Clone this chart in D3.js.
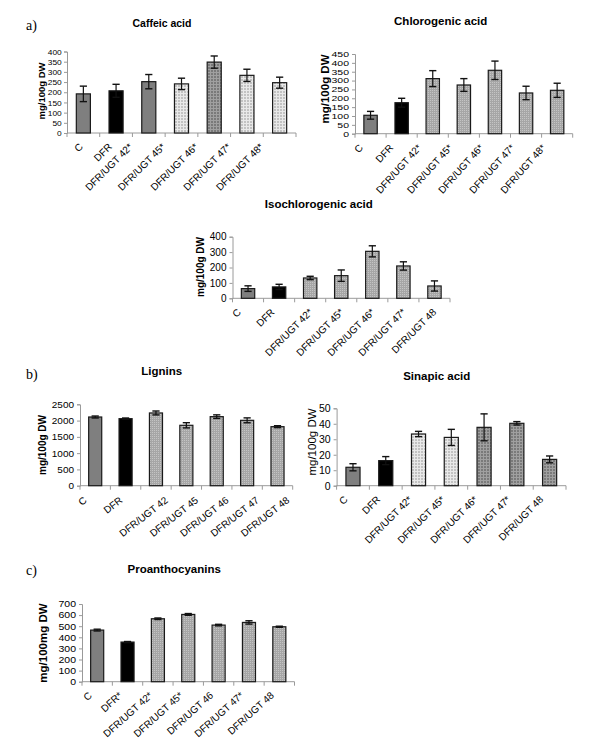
<!DOCTYPE html>
<html><head><meta charset="utf-8">
<script src="https://cdn.jsdelivr.net/npm/d3@7"></script>
<style>body{margin:0;background:#fff} svg{display:block}</style>
</head><body>
<svg id="c" width="600" height="750"></svg>
<script>
// ---------- data ----------
const catsCaffeic = ["C","DFR","DFR/UGT 42*","DFR/UGT 45*","DFR/UGT 46*","DFR/UGT 47*","DFR/UGT 48*"];
const catsChloro  = ["C","DFR","DFR/UGT 42*","DFR/UGT 45*","DFR/UGT 46*","DFR/UGT 47*","DFR/UGT 48*"];
const catsIso     = ["C","DFR","DFR/UGT 42*","DFR/UGT 45*","DFR/UGT 46*","DFR/UGT 47*","DFR/UGT 48"];
const catsLignin  = ["C","DFR","DFR/UGT 42","DFR/UGT 45","DFR/UGT 46","DFR/UGT 47","DFR/UGT 48"];
const catsSinapic = ["C","DFR","DFR/UGT 42*","DFR/UGT 45*","DFR/UGT 46*","DFR/UGT 47*","DFR/UGT 48"];
const catsProanth = ["C","DFR*","DFR/UGT 42*","DFR/UGT 45*","DFR/UGT 46","DFR/UGT 47*","DFR/UGT 48"];

const caffeicVals = [192,207,252,241,348,283,247];
const caffeicErr  = [38,32,35,28,30,30,27];
const chloroVals  = [104,175,311,275,358,230,245];
const chloroErr   = [22,25,45,36,52,38,40];
const isoVals     = [63,74,132,147,305,210,80];
const isoErr      = [18,17,11,37,36,27,33];
const ligninVals  = [2110,2059,2234,1855,2121,2008,1813];
const ligninErr   = [30,20,60,80,55,75,30];
const sinapicVals = [11.9,16.2,33.4,31.2,37.7,40.3,17.0];
const sinapicErr  = [2.3,2.6,1.7,5.2,8.7,1.1,2.2];
const proanthVals = [465,357,567,606,510,534,495];
const proanthErr  = [8,5,7,8,7,15,5];

const ticksCaffeic = [0,50,100,150,200,250,300,350,400];
const ticksChloro  = [0,50,100,150,200,250,300,350,400,450];
const ticksIso     = [0,100,200,300,400];
const ticksLignin  = [0,500,1000,1500,2000,2500];
const ticksSinapic = [0,10,20,30,40,50];
const ticksProanth = [0,100,200,300,400,500,600,700];

// fill style keys per bar (styles kept separate from data)
const fillsCaffeic = ["solid","black","solid","light","dark","light","light"];
const fillsChloro  = ["solid","black","dot","dot","dot","dot","dot"];
const fillsIso     = ["solid","black","dot","dot","dot","dot","dot"];
const fillsLignin  = ["solid","black","dot","dot","dot","dot","dot"];
const fillsSinapic = ["solid","black","light","light","dark","dark","dark"];
const fillsProanth = ["solid","black","dot","dot","dot","dot","dot"];

// ---------- drawing ----------
const svg = d3.select("#c");
const defs = svg.append("defs");
function pat(id, base, line, size, dots){
  const p = defs.append("pattern").attr("id",id).attr("patternUnits","userSpaceOnUse")
    .attr("width",size).attr("height",size);
  p.append("rect").attr("width",size).attr("height",size).attr("fill",base);
  if(dots){
    p.append("rect").attr("x",0).attr("y",0).attr("width",1).attr("height",1).attr("fill",line);
  } else {
    p.append("rect").attr("x",0).attr("y",0).attr("width",size).attr("height",1).attr("fill",line);
    p.append("rect").attr("x",0).attr("y",0).attr("width",1).attr("height",size).attr("fill",line);
  }
}
pat("pLight","#c2c2c2","#e9e9e9",3,false);
pat("pDark","#7a7a7a","#a0a0a0",3,false);
pat("pDot","#a6a6a6","#c4c4c4",2,true);
const fillMap = {solid:"#7f7f7f", black:"#000", light:"url(#pLight)", dark:"url(#pDark)", dot:"url(#pDot)"};

const FONT = "Liberation Sans, Arial, sans-serif";

function panel(o){
  const g = svg.append("g");
  const x = d3.scaleBand().domain(o.cats).range([o.x0,o.x1]).padding(0);
  const y = d3.scaleLinear().domain([0,o.ymax]).range([o.y0,o.y1]);
  const bw = x.bandwidth()*0.43;
  // title
  g.append("text").attr("x",o.tx).attr("y",o.ty).attr("text-anchor","middle")
    .attr("font-family",FONT).attr("font-weight","bold").attr("font-size",o.tfs).text(o.title);
  // y axis title
  g.append("text").attr("transform",`translate(${o.ytx},${o.yty}) rotate(-90)`)
    .attr("text-anchor","middle").attr("dy","0.35em")
    .attr("font-family",FONT).attr("font-weight",o.ytBold?"bold":"normal")
    .attr("font-size",o.ytfs).text(o.ytitle);
  // y axis
  const ya = d3.axisLeft(y).tickValues(o.ticks).tickSize(3).tickPadding(3).tickFormat(d3.format("d"));
  const yg = g.append("g").attr("transform",`translate(${o.x0},0)`).call(ya);
  yg.select(".domain").attr("stroke","#9a9a9a");
  yg.selectAll(".tick line").attr("stroke","#9a9a9a");
  yg.selectAll(".tick text").attr("font-family",FONT).attr("font-size",o.tkfs).attr("fill","#000")
    .attr("transform",`scale(${o.tsx||1},${o.tsy||1})`);
  // x axis line and ticks at band boundaries
  g.append("line").attr("x1",o.x0).attr("x2",o.x1).attr("y1",o.y0).attr("y2",o.y0)
    .attr("stroke","#9a9a9a").attr("stroke-width",1);
  const bounds = o.cats.map(c=>x(c)).concat([o.x1]);
  g.selectAll(".xt").data(bounds).enter().append("line")
    .attr("x1",d=>d).attr("x2",d=>d).attr("y1",o.y0).attr("y2",o.y0+4)
    .attr("stroke","#9a9a9a");
  // bars
  g.selectAll(".bar").data(o.vals).enter().append("rect")
    .attr("x",(d,i)=>x(o.cats[i])+x.bandwidth()/2-bw/2)
    .attr("width",bw)
    .attr("y",d=>y(d)).attr("height",d=>o.y0-y(d))
    .attr("fill",(d,i)=>fillMap[o.fills[i]])
    .attr("stroke","#1a1a1a").attr("stroke-width",1.2);
  // error bars
  const cw = 3.6;
  o.vals.forEach((v,i)=>{
    const cx = x(o.cats[i])+x.bandwidth()/2;
    const e = o.err[i];
    const col = "#111";
    g.append("line").attr("x1",cx).attr("x2",cx).attr("y1",y(v+e)).attr("y2",y(Math.max(0,v-e)))
      .attr("stroke",col).attr("stroke-width",1.2);
    g.append("line").attr("x1",cx-cw).attr("x2",cx+cw).attr("y1",y(v+e)).attr("y2",y(v+e))
      .attr("stroke",col).attr("stroke-width",1.4);
    g.append("line").attr("x1",cx-cw).attr("x2",cx+cw).attr("y1",y(v-e)).attr("y2",y(v-e))
      .attr("stroke",col).attr("stroke-width",1.4);
  });
  // x labels rotated
  o.cats.forEach(c=>{
    const cx = x(c)+x.bandwidth()/2;
    const t = g.append("text").attr("text-anchor","end").attr("dy","0.35em")
      .attr("font-family",FONT).attr("font-size",o.xfs).text(c);
    const L = t.node().getComputedTextLength();
    const off = o.la + o.lb*L;
    t.attr("transform",`translate(${cx+off},${o.y0+o.lgap}) rotate(${o.ang})`);
  });
  // panel letter
  if(o.letter){
    g.append("text").attr("x",o.lx).attr("y",o.ly).attr("font-family","Liberation Serif, Times New Roman, serif")
      .attr("font-size",14).text(o.letter);
  }
}

panel({cats:catsCaffeic, vals:caffeicVals, err:caffeicErr, fills:fillsCaffeic, ticks:ticksCaffeic, ymax:400,
  x0:67, x1:296, y0:133, y1:51.5, title:"Caffeic acid", tx:162, ty:26.5, tfs:10.5,
  ytitle:"mg/100g DW", ytx:42, yty:91, ytfs:9.5, ytBold:true, tkfs:9.5, tsx:0.88, tsy:0.85, xfs:10,
  la:0, lb:-0.29, lgap:12, ang:-45, letter:"a)", lx:26, ly:30});
panel({cats:catsChloro, vals:chloroVals, err:chloroErr, fills:fillsChloro, ticks:ticksChloro, ymax:450,
  x0:355, x1:572.7, y0:133.7, y1:54, title:"Chlorogenic acid", tx:440.7, ty:25, tfs:11.5,
  ytitle:"mg/100g DW", ytx:325, yty:89, ytfs:11.5, ytBold:true, tkfs:10.5, tsx:1.0, tsy:0.7, xfs:10,
  la:-9, lb:-0.07, lgap:12, ang:-48});
panel({cats:catsIso, vals:isoVals, err:isoErr, fills:fillsIso, ticks:ticksIso, ymax:400,
  x0:232.5, x1:450, y0:298.3, y1:236.7, title:"Isochlorogenic acid", tx:318.8, ty:207.5, tfs:11.5,
  ytitle:"mg/100g DW", ytx:200.7, yty:267, ytfs:10, ytBold:true, tkfs:10, xfs:10,
  la:-10, lb:0.17, lgap:12, ang:-45});
panel({cats:catsLignin, vals:ligninVals, err:ligninErr, fills:fillsLignin, ticks:ticksLignin, ymax:2500,
  x0:80, x1:292.7, y0:485.7, y1:404.3, title:"Lignins", tx:161.7, ty:374.5, tfs:11.5,
  ytitle:"mg/100g DW", ytx:42.7, yty:445, ytfs:10, ytBold:true, tkfs:10, tsx:1.0, tsy:0.9, xfs:10,
  la:-12.8, lb:0.4, lgap:13, ang:-38, letter:"b)", lx:26, ly:378.5});
panel({cats:catsSinapic, vals:sinapicVals, err:sinapicErr, fills:fillsSinapic, ticks:ticksSinapic, ymax:50,
  x0:336.6, x1:566, y0:485.7, y1:408.3, title:"Sinapic acid", tx:436.7, ty:380, tfs:11.5,
  ytitle:"mg/100g DW", ytx:311.7, yty:442, ytfs:11.5, ytBold:false, tkfs:10.5, xfs:10,
  la:-7, lb:-0.02, lgap:12, ang:-45});
panel({cats:catsProanth, vals:proanthVals, err:proanthErr, fills:fillsProanth, ticks:ticksProanth, ymax:700,
  x0:82, x1:294.5, y0:681.7, y1:604, title:"Proanthocyanins", tx:174.2, ty:572.5, tfs:11.5,
  ytitle:"mg/100mg DW", ytx:43.3, yty:643, ytfs:11.5, ytBold:true, tkfs:10.5, tsx:1.0, tsy:0.85, xfs:10,
  la:-7, lb:0, lgap:12, ang:-42, letter:"c)", lx:26, ly:575});
</script>
</body></html>
